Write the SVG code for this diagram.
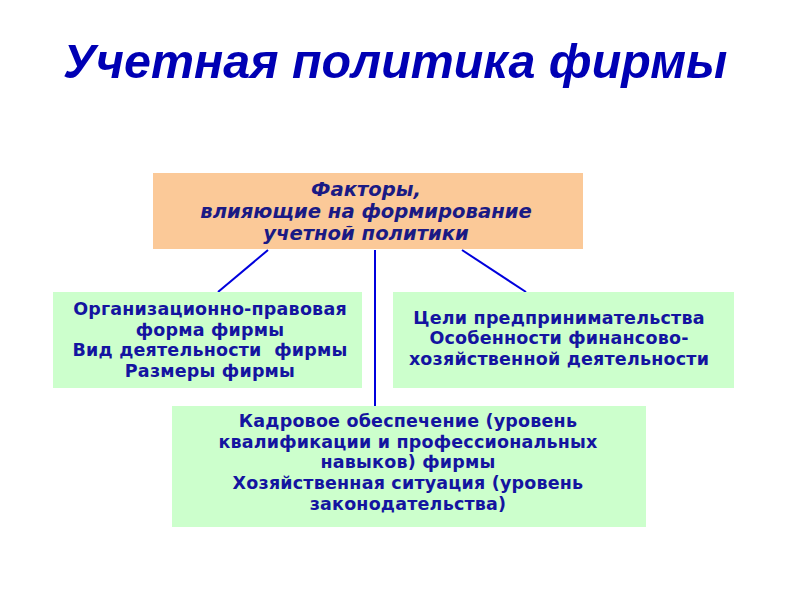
<svg xmlns="http://www.w3.org/2000/svg" width="800" height="600" viewBox="0 0 800 600">
<style>
.title{font-family:"Liberation Sans",Arial,sans-serif;font-weight:bold;font-style:italic;font-size:48.4px;fill:#0000b4}
.top{fill:#fbc998}
.green{fill:#ccffcc}
.tt{font-family:"DejaVu Sans",Verdana,sans-serif;font-weight:bold;font-style:italic;font-size:19.6px;fill:#1a1a84;text-anchor:middle}
.gt{font-family:"DejaVu Sans",Verdana,sans-serif;font-weight:bold;font-size:17.5px;letter-spacing:0.2px;fill:#1414a0;text-anchor:middle}
.conn line{stroke:#0000dd;stroke-width:2}
</style>
<rect width="800" height="600" fill="#ffffff"/>
<text class="title" x="63" y="78">Учетная политика фирмы</text>
<g class="conn" id="connectors">
<line x1="268" y1="250" x2="218" y2="292"/>
<line x1="375" y1="250" x2="375" y2="407"/>
<line x1="462" y1="250" x2="526" y2="292"/>
</g>
<g id="factors">
<rect class="top" x="153" y="173" width="430" height="76"/>
<text class="tt" x="366" y="196">Факторы,</text>
<text class="tt" x="366" y="218">влияющие на формирование</text>
<text class="tt" x="366" y="240">учетной политики</text>
</g>
<g id="left">
<rect class="green" x="53" y="292" width="309" height="96"/>
<text class="gt" x="210" y="315">Организационно-правовая</text>
<text class="gt" x="210" y="336">форма фирмы</text>
<text class="gt" x="210" y="356" style="white-space:pre">Вид деятельности  фирмы</text>
<text class="gt" x="210" y="377">Размеры фирмы</text>
</g>
<g id="right">
<rect class="green" x="393" y="292" width="341" height="96"/>
<text class="gt" x="559" y="324">Цели предпринимательства</text>
<text class="gt" x="559" y="344">Особенности финансово-</text>
<text class="gt" x="559" y="365">хозяйственной деятельности</text>
</g>
<g id="bottom">
<rect class="green" x="172" y="406" width="474" height="121"/>
<text class="gt" x="408" y="427">Кадровое обеспечение (уровень</text>
<text class="gt" x="408" y="448">квалификации и профессиональных</text>
<text class="gt" x="408" y="468">навыков) фирмы</text>
<text class="gt" x="408" y="489">Хозяйственная ситуация (уровень</text>
<text class="gt" x="408" y="510">законодательства)</text>
</g>
</svg>
